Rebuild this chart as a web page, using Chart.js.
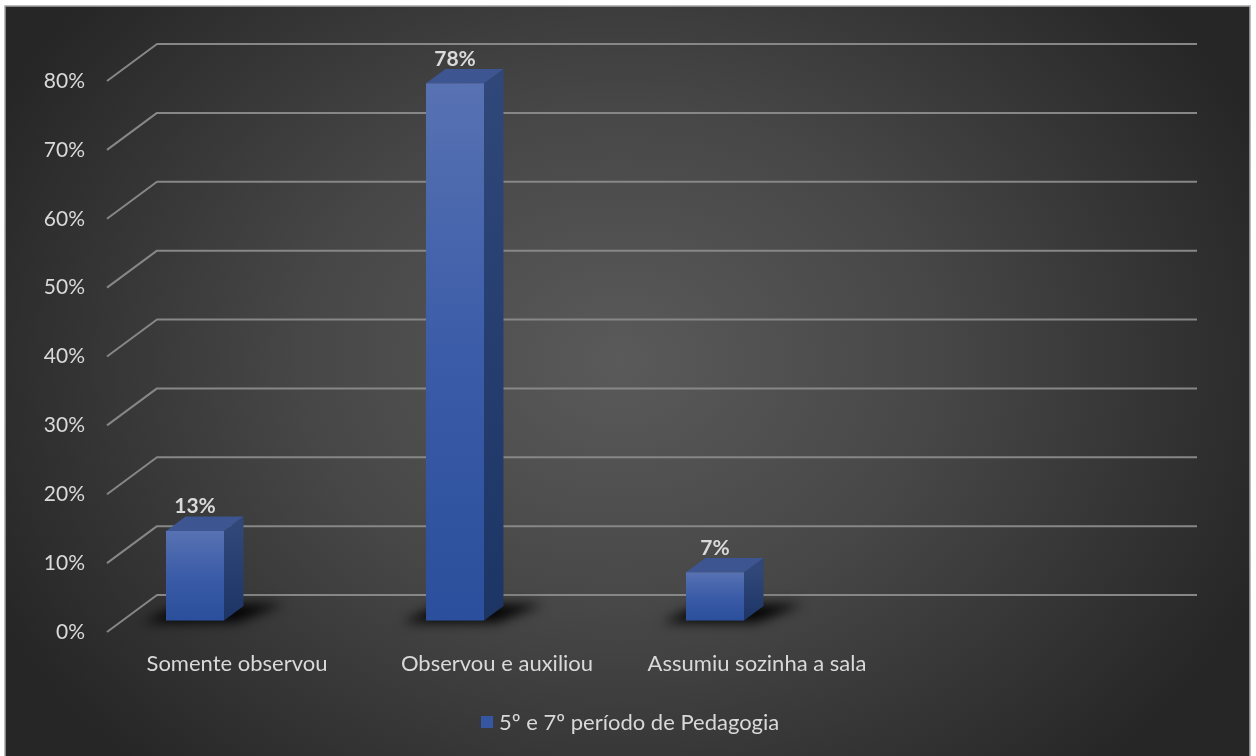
<!DOCTYPE html>
<html>
<head>
<meta charset="utf-8">
<script src="https://cdn.jsdelivr.net/npm/chart.js@4/dist/chart.umd.min.js"></script>
<style>
  html, body { margin: 0; padding: 0; background: #ffffff; }
  canvas { display: block; }
</style>
</head>
<body>
<canvas id="chart" width="1256" height="756"></canvas>
<script>
// Categories along the floor (the last slot is an empty position on the axis)
const categories = ['Somente observou', 'Observou e auxiliou', 'Assumiu sozinha a sala', ''];
// Percentage of students per category
const values = [13, 78, 7, null];
const seriesName = '5º e 7º período de Pedagogia';
// Value axis range and step (percent)
const yMin = 0;
const yMax = 80;
const yStep = 10;

const FONT = 'Lato, "Open Sans", sans-serif';
const TEXT = '#d9d9d9';

// 3D projection constants: floor depth and bar placement inside it
const DEPTH_X = 50, DEPTH_Y = -37;      // front plane -> back wall
const BAR_T0 = 0.31, BAR_T1 = 0.70;     // bar front/back faces as fraction of depth
const BAR_SHIFT = -57.5;                // bar offset from the category centre

function fmtPct(v) { return v + '%'; }

const backgroundPlugin = {
  id: 'panel',
  beforeDraw(chart) {
    const ctx = chart.ctx;
    const W = chart.width, H = chart.height;
    ctx.save();
    ctx.fillStyle = '#ffffff';
    ctx.fillRect(0, 0, W, H);
    // radial shading of the panel
    ctx.save();
    ctx.beginPath();
    ctx.rect(5, 6, 1245, H);
    ctx.clip();
    ctx.translate(620, 360);
    ctx.scale(1.25, 1);
    const g = ctx.createRadialGradient(0, 0, 0, 0, 0, 560);
    g.addColorStop(0, '#5a5a5a');
    g.addColorStop(0.45, '#474747');
    g.addColorStop(1, '#262626');
    ctx.fillStyle = g;
    ctx.fillRect(-620, -400, 1300, 900);
    ctx.restore();
    ctx.strokeStyle = '#a6a6a6';
    ctx.lineWidth = 1.5;
    ctx.strokeRect(5, 6, 1245, H + 4);
    ctx.restore();
  }
};

const wallPlugin = {
  id: 'wall',
  beforeDatasetsDraw(chart) {
    const ctx = chart.ctx;
    const y = chart.scales.y;
    const area = chart.chartArea;
    ctx.save();
    ctx.strokeStyle = '#878787';
    ctx.lineWidth = 2;
    ctx.lineJoin = 'round';
    for (let v = yMin; v <= yMax; v += yStep) {
      const py = y.getPixelForValue(v);
      ctx.beginPath();
      ctx.moveTo(area.left, py);
      ctx.lineTo(area.left + DEPTH_X, py + DEPTH_Y);
      ctx.lineTo(area.right + DEPTH_X, py + DEPTH_Y);
      ctx.stroke();
    }
    ctx.restore();
  }
};

const boxPlugin = {
  id: 'boxes',
  afterDatasetsDraw(chart) {
    const ctx = chart.ctx;
    const meta = chart.getDatasetMeta(0);
    const ds = chart.data.datasets[0];
    const fx = DEPTH_X * BAR_T0, fy = DEPTH_Y * BAR_T0;
    const bx = DEPTH_X * BAR_T1, by = DEPTH_Y * BAR_T1;
    const dx = bx - fx, dy = by - fy;

    meta.data.forEach((el, i) => {
      const v = ds.data[i];
      if (v === null || v === undefined) return;
      const p = el.getProps(['x', 'y', 'base', 'width'], true);
      const l = p.x + BAR_SHIFT - p.width / 2 + fx;
      const r = p.x + BAR_SHIFT + p.width / 2 + fx;
      const top = p.y + fy;
      const bot = p.base + fy;

      // soft floor shadow
      ctx.save();
      ctx.filter = 'blur(6px)';
      ctx.fillStyle = 'rgba(0,0,0,0.95)';
      ctx.beginPath();
      ctx.moveTo(l - 24, bot + 2);
      ctx.lineTo(r + 12, bot + 2);
      ctx.lineTo(r + dx + 40, bot + dy - 2);
      ctx.lineTo(l + dx - 4, bot + dy - 2);
      ctx.closePath();
      ctx.fill();
      ctx.restore();

      // right side face
      const gs = ctx.createLinearGradient(0, top, 0, bot);
      gs.addColorStop(0, '#2f4779');
      gs.addColorStop(1, '#1d3565');
      ctx.fillStyle = gs;
      ctx.beginPath();
      ctx.moveTo(r, top);
      ctx.lineTo(r + dx, top + dy);
      ctx.lineTo(r + dx, bot + dy);
      ctx.lineTo(r, bot);
      ctx.closePath();
      ctx.fill();

      // top face
      ctx.fillStyle = '#3d5591';
      ctx.beginPath();
      ctx.moveTo(l, top);
      ctx.lineTo(l + dx, top + dy);
      ctx.lineTo(r + dx, top + dy);
      ctx.lineTo(r, top);
      ctx.closePath();
      ctx.fill();

      // front face
      const gf = ctx.createLinearGradient(0, top, 0, bot);
      gf.addColorStop(0, '#5872b3');
      gf.addColorStop(0.5, '#3b5ca8');
      gf.addColorStop(1, '#2b4f9c');
      ctx.fillStyle = gf;
      ctx.fillRect(l, top, r - l, bot - top);

      // value label above the box
      ctx.fillStyle = TEXT;
      ctx.font = 'bold 21px ' + FONT;
      ctx.textAlign = 'center';
      ctx.textBaseline = 'middle';
      ctx.fillText(fmtPct(v), (l + r) / 2, top + dy - 10);
    });

    // legend
    const legX = 481, legY = 722;
    ctx.fillStyle = '#3556a3';
    ctx.fillRect(legX, legY - 6, 12, 12);
    ctx.fillStyle = TEXT;
    ctx.font = '22px ' + FONT;
    ctx.textAlign = 'left';
    ctx.textBaseline = 'middle';
    ctx.fillText(ds.label, legX + 18, legY + 1);
  }
};

new Chart(document.getElementById('chart'), {
  type: 'bar',
  data: {
    labels: categories,
    datasets: [{
      label: seriesName,
      data: values,
      backgroundColor: 'rgba(0,0,0,0)',
      borderWidth: 0,
      barPercentage: 58 / 260,
      categoryPercentage: 1
    }]
  },
  options: {
    responsive: false,
    devicePixelRatio: 1,
    animation: false,
    layout: { padding: { left: 0, top: 81, right: 109, bottom: 0 } },
    plugins: {
      legend: { display: false },
      tooltip: { enabled: false }
    },
    scales: {
      x: {
        grid: { display: false, drawTicks: false },
        border: { display: false },
        ticks: { color: TEXT, font: { family: FONT, size: 22 }, padding: 19, maxRotation: 0, autoSkip: false },
        afterFit(s) { s.height = 124; }
      },
      y: {
        min: yMin,
        max: yMax,
        grid: { display: false, drawTicks: false },
        border: { display: false },
        ticks: { stepSize: yStep, color: TEXT, font: { family: FONT, size: 21 }, padding: 22, callback: fmtPct },
        afterFit(s) { s.width = 107; }
      }
    }
  },
  plugins: [backgroundPlugin, wallPlugin, boxPlugin]
});
</script>
</body>
</html>
